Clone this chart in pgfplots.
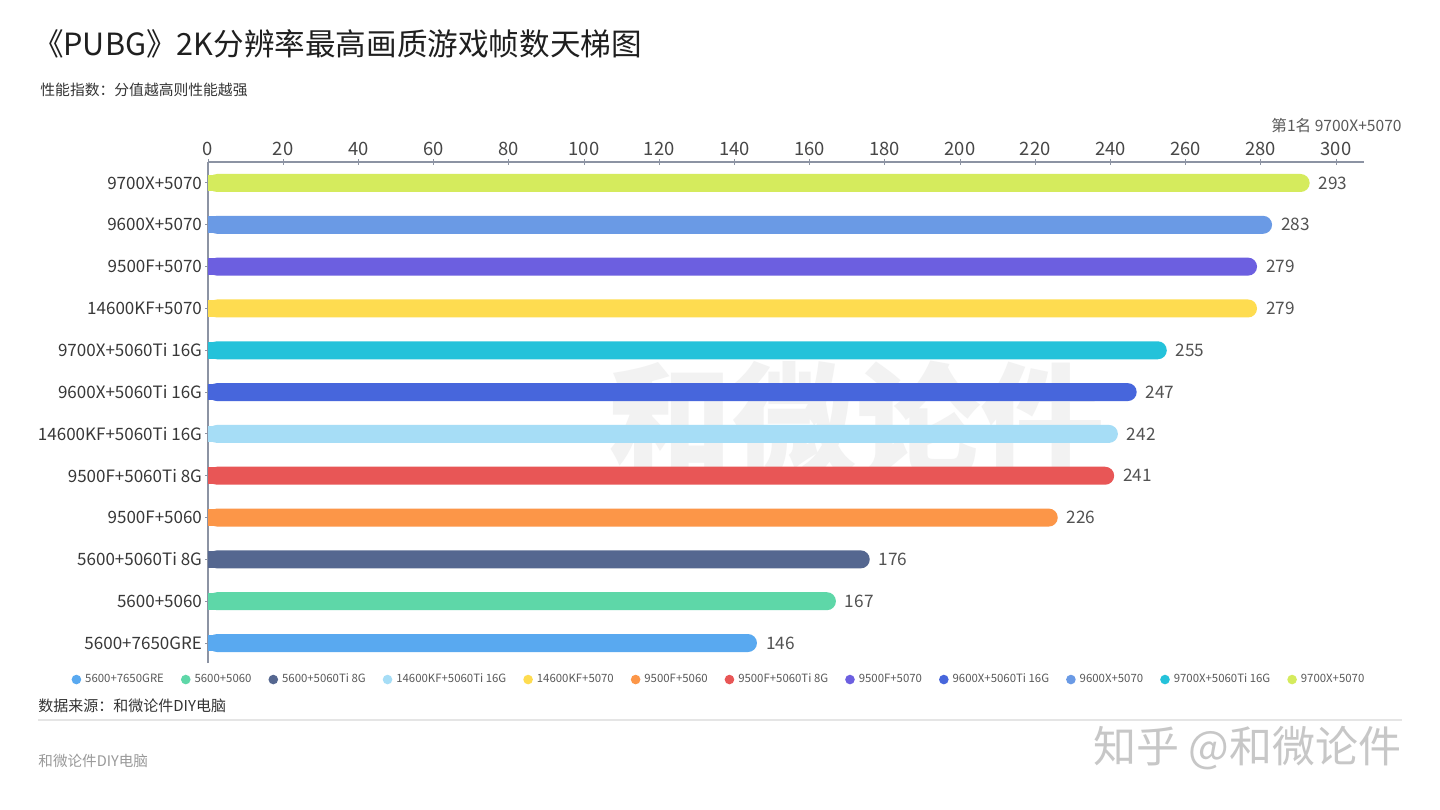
\documentclass[border=0pt]{standalone}
\usepackage{fontspec}
\setmainfont{Noto Sans CJK SC}
\usepackage{pgfplots}
\pgfplotsset{compat=1.18}
\definecolor{axisgray}{HTML}{8C93A3}
\definecolor{cA}{HTML}{59A9F0}% 5600+7650GRE
\definecolor{cB}{HTML}{5ED7A8}% 5600+5060
\definecolor{cC}{HTML}{556790}% 5600+5060Ti 8G
\definecolor{cD}{HTML}{A6DDF6}% 14600KF+5060Ti 16G
\definecolor{cE}{HTML}{FEDC50}% 14600KF+5070
\definecolor{cF}{HTML}{FC9648}% 9500F+5060
\definecolor{cG}{HTML}{E85656}% 9500F+5060Ti 8G
\definecolor{cH}{HTML}{6C5FE0}% 9500F+5070
\definecolor{cI}{HTML}{4766DC}% 9600X+5060Ti 16G
\definecolor{cJ}{HTML}{6A9AE5}% 9600X+5070
\definecolor{cK}{HTML}{24C2DA}% 9700X+5060Ti 16G
\definecolor{cL}{HTML}{D5EB5D}% 9700X+5070
\pgfplotsset{
  mainbar/.style={fill=#1, draw=none, bar width=9pt, bar shift=0pt, rounded corners=4.5pt,
    legend image code/.code={\fill[#1] (0pt,0pt) circle (2.4pt);},
    nodes near coords, point meta=x},
  sqbar/.style={fill=#1, draw=none, bar width=8.4pt, bar shift=0pt, forget plot},
}
\begin{document}
\begin{tikzpicture}
\path[use as bounding box] (0,0) rectangle (720pt,-404.5pt);
\fill[white] (0,0) rectangle (720pt,-404.5pt);
% background watermark
\node[text=black!5, font=\fontsize{62}{64}\selectfont\bfseries, inner sep=0pt] at (428pt,-210pt) {和微论件};
% titles
\node[anchor=west, inner sep=0pt, text=black!88, font=\fontsize{15.3}{18}\selectfont] at (16.3pt,-22pt) {《PUBG》2K分辨率最高画质游戏帧数天梯图};
\node[anchor=west, inner sep=0pt, text=black!80, font=\fontsize{7.4}{9}\selectfont] at (20pt,-45pt) {性能指数：分值越高则性能越强};
\node[anchor=east, inner sep=0pt, text=black!65, font=\fontsize{7.8}{9}\selectfont] at (701pt,-63pt) {第1名 9700X+5070};
\node[anchor=west, inner sep=0pt, text=black!80, font=\fontsize{7.5}{9}\selectfont] at (19pt,-353pt) {数据来源：和微论件DIY电脑};
\draw[black!10, line width=0.6pt] (19pt,-360pt) -- (701pt,-360pt);
\node[anchor=west, inner sep=0pt, text=black!40, font=\fontsize{7.3}{9}\selectfont] at (19pt,-380.5pt) {和微论件DIY电脑};
\node[anchor=east, inner sep=0pt, text=black!22, font=\fontsize{21.5}{23}\selectfont] at (701pt,-374pt) {知乎 @和微论件};
\begin{axis}[
  at={(104pt,-81pt)}, anchor=north west,
  scale only axis, width=578pt, height=250.5pt,
  xbar,
  xmin=0, xmax=307.45, ymin=-0.478, ymax=11.502,
  axis x line*=top, axis y line*=left,
  axis line style={draw=axisgray, line width=0.6pt},
  tick style={draw=axisgray, line width=0.5pt},
  major tick length=3pt, tick align=center,
  xtick={0,20,...,300},
  ytick={0,...,11},
  yticklabels={5600+7650GRE,5600+5060,5600+5060Ti 8G,9500F+5060,9500F+5060Ti 8G,14600KF+5060Ti 16G,9600X+5060Ti 16G,9700X+5060Ti 16G,14600KF+5070,9500F+5070,9600X+5070,9700X+5070},
  /pgf/number format/assume math mode=true,
  x tick label style={font=\fontsize{9.2}{10}\selectfont, text=black!72, yshift=-2pt},
  y tick label style={font=\fontsize{8.5}{10}\selectfont, text=black!78, xshift=2pt},
  every node near coord/.append style={font=\fontsize{8.6}{10}\selectfont, text=black!68, xshift=1pt},
  legend style={at={(0.4429,-0.033)}, anchor=center, draw=none, fill=none,
    font=\fontsize{5.7}{7}\selectfont, text=black!65,
    /tikz/every even column/.append style={column sep=6.5pt}},
  legend columns=-1, legend cell align=left,
]
\addplot[mainbar=cA] coordinates {(146,0)};
\addlegendentry{5600+7650GRE}
\addplot[mainbar=cB] coordinates {(167,1)};
\addlegendentry{5600+5060}
\addplot[mainbar=cC] coordinates {(176,2)};
\addlegendentry{5600+5060Ti 8G}
\addplot[mainbar=cD] coordinates {(242,5)};
\addlegendentry{14600KF+5060Ti 16G}
\addplot[mainbar=cE] coordinates {(279,8)};
\addlegendentry{14600KF+5070}
\addplot[mainbar=cF] coordinates {(226,3)};
\addlegendentry{9500F+5060}
\addplot[mainbar=cG] coordinates {(241,4)};
\addlegendentry{9500F+5060Ti 8G}
\addplot[mainbar=cH] coordinates {(279,9)};
\addlegendentry{9500F+5070}
\addplot[mainbar=cI] coordinates {(247,6)};
\addlegendentry{9600X+5060Ti 16G}
\addplot[mainbar=cJ] coordinates {(283,10)};
\addlegendentry{9600X+5070}
\addplot[mainbar=cK] coordinates {(255,7)};
\addlegendentry{9700X+5060Ti 16G}
\addplot[mainbar=cL] coordinates {(293,11)};
\addlegendentry{9700X+5070}
% square left ends of the bars (they start at the axis)
\addplot[sqbar=cA] coordinates {(6,0)};
\addplot[sqbar=cB] coordinates {(6,1)};
\addplot[sqbar=cC] coordinates {(6,2)};
\addplot[sqbar=cF] coordinates {(6,3)};
\addplot[sqbar=cG] coordinates {(6,4)};
\addplot[sqbar=cD] coordinates {(6,5)};
\addplot[sqbar=cI] coordinates {(6,6)};
\addplot[sqbar=cK] coordinates {(6,7)};
\addplot[sqbar=cE] coordinates {(6,8)};
\addplot[sqbar=cH] coordinates {(6,9)};
\addplot[sqbar=cJ] coordinates {(6,10)};
\addplot[sqbar=cL] coordinates {(6,11)};
\end{axis}
\end{tikzpicture}
\end{document}
